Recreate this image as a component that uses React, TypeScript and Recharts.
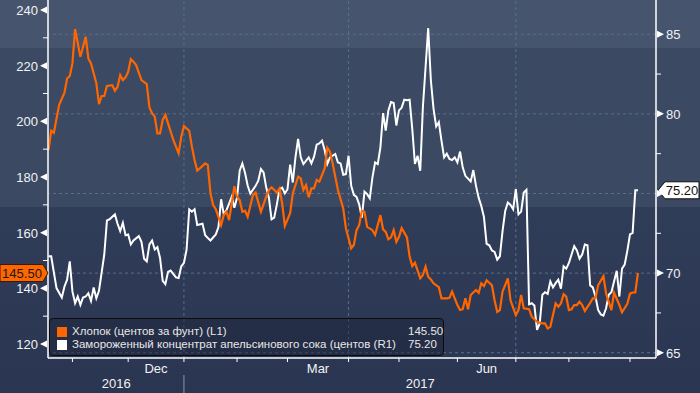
import React from "react";
import {
  ComposedChart,
  Line,
  XAxis,
  YAxis,
  ReferenceLine,
  ReferenceDot,
} from "recharts";

// trading-day index counted from 19 Oct 2016
const cottonDays = [
  0, 1, 2, 4, 6, 7, 8, 9, 10, 12, 14, 15, 16, 18, 19, 20, 21, 22, 24, 25, 26, 27, 28, 29, 30, 31, 32, 33, 35, 37,
  38, 39, 40, 41, 42, 43, 44, 46, 47, 48, 49, 50, 51, 53, 54, 55, 56, 57, 59, 60, 61, 62, 63, 64, 65, 66, 67, 68, 69, 70,
  71, 72, 73, 74, 75, 77, 78, 80, 82, 83, 84, 86, 87, 88, 89, 91, 92, 94, 95, 96, 97, 98, 99, 100, 101, 102, 104, 105, 106, 107,
  109, 111, 112, 114, 115, 116, 117, 118, 119, 120, 122, 123, 125, 126, 127, 128, 129, 130, 131, 132, 133, 135, 136, 137, 138, 140, 141, 142, 143, 144,
  145, 147, 148, 150, 151, 152, 154, 155, 156, 157, 158, 159, 161, 162, 163, 164, 165, 167, 168, 169, 170, 171, 173, 174, 176, 177, 178, 179, 181, 182,
  184, 186, 187, 188, 189, 191, 192, 193, 194, 195, 196, 197, 198, 199, 200, 201, 202, 204, 205, 206, 207, 209, 210, 212, 213, 215, 216, 218, 219, 220,
  221, 222,
];
const cottonValues = [
  189.7, 196.6, 195.9, 205.9, 210.3, 215.4, 216.3, 220.8, 233.1, 223.2, 230.4, 222.6, 220.8, 213.7, 206.2, 209.1, 209.1, 212.7, 213.0, 211.0, 212.4, 216.6, 214.8, 215.8, 217.8, 222.3, 221.4, 220.2, 214.8, 213.4,
  205.0, 202.9, 201.7, 195.7, 195.7, 200.5, 202.3, 196.3, 193.3, 190.9, 188.5, 194.5, 198.3, 196.6, 190.9, 186.1, 182.3, 183.1, 184.9, 184.3, 174.1, 169.9, 168.4, 165.7, 162.7, 166.3, 167.5, 164.5, 170.5, 176.7,
  172.9, 171.7, 167.5, 167.9, 165.7, 173.5, 174.4, 167.5, 172.9, 175.3, 176.3, 174.4, 175.9, 170.5, 162.4, 167.0, 174.1, 180.1, 179.5, 175.3, 177.1, 172.7, 175.9, 175.9, 178.9, 178.3, 183.1, 190.5, 189.1, 184.9,
  175.3, 168.7, 161.6, 154.4, 155.6, 160.9, 162.7, 167.9, 167.5, 162.1, 160.9, 159.2, 166.3, 161.2, 160.3, 157.6, 158.3, 160.9, 156.7, 158.5, 161.7, 158.3, 151.4, 148.0, 149.2, 143.6, 144.8, 147.8, 144.2, 143.2,
  141.8, 140.4, 136.4, 136.4, 136.6, 138.8, 134.0, 132.2, 132.5, 136.4, 132.5, 137.6, 139.4, 138.4, 141.8, 140.8, 142.9, 141.1, 135.7, 131.5, 132.2, 138.8, 143.6, 135.7, 130.4, 132.2, 137.6, 132.8, 132.5, 129.8,
  128.0, 127.4, 127.4, 125.6, 126.2, 134.6, 133.4, 134.6, 137.9, 137.0, 132.2, 132.5, 134.0, 134.0, 135.2, 134.0, 131.9, 134.8, 136.4, 136.4, 141.1, 144.4, 138.1, 132.2, 138.4, 134.0, 131.4, 134.4, 138.1, 138.5,
  138.5, 145.5,
];

const juiceDays = [
  0, 1, 3, 5, 6, 7, 8, 9, 10, 11, 12, 13, 14, 15, 16, 17, 18, 19, 21, 22, 23, 25, 26, 27, 28, 29, 30, 31, 32, 34,
  35, 36, 37, 38, 39, 40, 41, 42, 43, 44, 45, 46, 48, 49, 50, 51, 52, 53, 54, 55, 56, 58, 59, 60, 61, 63, 64, 65, 66, 67,
  68, 69, 70, 71, 72, 73, 74, 75, 76, 78, 79, 80, 81, 82, 83, 84, 85, 86, 87, 88, 89, 90, 91, 92, 93, 94, 95, 96, 98, 99,
  100, 101, 102, 103, 104, 105, 106, 108, 109, 110, 111, 112, 113, 114, 115, 116, 117, 118, 119, 120, 121, 122, 123, 124, 125, 126, 127, 128, 129, 130,
  131, 132, 133, 134, 135, 136, 137, 138, 139, 140, 141, 143, 144, 145, 146, 147, 148, 149, 150, 151, 152, 153, 154, 155, 156, 157, 159, 160, 161, 162,
  163, 164, 165, 166, 167, 168, 169, 170, 171, 172, 173, 174, 175, 176, 177, 178, 179, 180, 181, 182, 183, 184, 185, 186, 187, 188, 189, 190, 191, 192,
  193, 194, 195, 196, 197, 198, 199, 200, 201, 202, 203, 204, 205, 206, 207, 208, 209, 210, 211, 212, 213, 214, 215, 216, 217, 218, 219, 220, 221, 222,
];
const juiceValues = [
  71.06, 71.06, 69.06, 68.47, 69.16, 69.59, 70.74, 68.85, 68.11, 68.53, 68.01, 68.47, 68.53, 68.74, 68.26, 69.1, 68.42, 68.89, 71.17, 73.31, 73.38, 73.69, 73.1, 72.64, 73.16, 72.38, 72.43, 71.8, 72.05, 72.32,
  71.96, 70.9, 70.74, 71.8, 72.05, 71.48, 71.63, 70.95, 69.52, 69.31, 70.07, 70.16, 69.73, 69.69, 70.43, 70.64, 71.48, 74.01, 73.86, 74.01, 73.02, 73.1, 72.38, 72.21, 72.05, 72.43, 72.89, 74.64, 73.69, 73.95,
  74.36, 74.79, 74.11, 74.74, 76.43, 76.89, 76.3, 75.5, 75.0, 75.48, 75.8, 76.54, 76.32, 75.37, 74.74, 73.38, 73.48, 74.32, 75.27, 75.37, 75.0, 75.27, 76.81, 75.69, 77.27, 78.43, 77.27, 76.85, 77.27, 76.89,
  77.31, 78.07, 78.15, 78.32, 77.74, 76.85, 77.27, 77.48, 76.95, 76.89, 76.18, 76.22, 77.37, 75.48, 74.91, 74.79, 74.32, 73.48, 75.12, 74.96, 74.7, 76.01, 76.95, 76.85, 77.9, 80.05, 78.95, 80.22, 80.74, 80.68,
  79.27, 80.22, 80.39, 80.89, 80.85, 80.89, 79.06, 76.85, 77.37, 76.43, 80.43, 85.38, 82.11, 80.33, 79.21, 79.48, 78.32, 77.27, 77.5, 77.17, 77.1, 77.27, 76.95, 77.63, 76.64, 76.11, 75.75, 76.47, 75.48, 74.74,
  74.22, 73.52, 71.84, 71.75, 71.42, 71.33, 70.85, 71.06, 72.64, 73.9, 74.43, 74.28, 74.01, 75.27, 73.69, 73.86, 75.06, 75.23, 68.04, 68.11, 67.96, 66.43, 66.84, 68.64, 68.8, 68.7, 69.48, 69.1, 69.37, 69.59,
  69.02, 70.43, 70.28, 70.64, 71.17, 71.69, 71.42, 70.91, 71.17, 71.8, 71.75, 69.23, 69.1, 68.53, 67.69, 67.41, 67.33, 67.79, 68.64, 68.8, 69.48, 70.15, 68.53, 70.28, 70.53, 71.4, 72.43, 72.53, 75.2, 75.2,
];

// first trading day of each month, Nov 2016 .. Sep 2017
const monthStarts = [9, 30, 51, 71, 90, 113, 132, 154, 176, 196, 219];
const quarterStarts = [51, 113, 176];
const yearBreak = 51;
const monthLabels = ["Dec", "Mar", "Jun"];
const monthLabelDays = [40.5, 101.5, 165];
const yearLabels = ["2016", "2017"];
const yearLabelDays = [25.5, 140];

const leftTicks = [120, 130, 140, 150, 160, 170, 180, 190, 200, 210, 220, 230, 240];
const rightTicks = [65, 67.5, 70, 72.5, 75, 77.5, 80, 82.5, 85];
const rightGrid = [65, 70, 75, 80, 85];

const cottonName = "Хлопок (центов за фунт) (L1)";
const juiceName = "Замороженный концентрат апельсинового сока (центов (R1)";

const ORANGE = "#ff6600";
const FONT = "'Liberation Sans', Arial, sans-serif";
const GRID = "#56708f";

const cottonData = cottonDays.map((d, i) => ({ day: d, v: cottonValues[i] }));
const juiceData = juiceDays.map((d, i) => ({ day: d, v: juiceValues[i] }));
const lastCotton = cottonData[cottonData.length - 1];
const lastJuice = juiceData[juiceData.length - 1];

const xTicks = [...monthStarts, ...monthLabelDays, ...yearLabelDays].sort((a, b) => a - b);

function LeftTick(props: any) {
  const { y, payload } = props;
  const v = payload.value;
  if (v % 20 !== 0) {
    return <line x1={43} x2={48} y1={y} y2={y} stroke="#fff" strokeWidth={1} />;
  }
  return (
    <g>
      <text x={38} y={y + 5} textAnchor="end" fill="#f2f2f2" fontSize={13} fontFamily={FONT}>
        {v}
      </text>
      <polygon points={`40,${y} 47,${y - 3.5} 47,${y + 3.5}`} fill="#fff" />
    </g>
  );
}

function RightTick(props: any) {
  const { y, payload } = props;
  const v = payload.value;
  if (v % 5 !== 0) {
    return <line x1={656} x2={661} y1={y} y2={y} stroke="#fff" strokeWidth={1} />;
  }
  // the last-value tag sits on top of a label this close to it
  const covered = Math.abs(v - lastJuice.v) < 1.2;
  return (
    <g>
      <polygon points={`664,${y} 657,${y - 3.5} 657,${y + 3.5}`} fill="#fff" />
      {!covered && (
        <text x={666} y={y + 5} textAnchor="start" fill="#f2f2f2" fontSize={13} fontFamily={FONT}>
          {v}
        </text>
      )}
    </g>
  );
}

function DateTick(props: any) {
  const { x, payload } = props;
  const v = payload.value;
  const mi = monthLabelDays.indexOf(v);
  if (mi >= 0) {
    return (
      <text x={x} y={373} textAnchor="middle" fill="#f2f2f2" fontSize={13} fontFamily={FONT}>
        {monthLabels[mi]}
      </text>
    );
  }
  const yi = yearLabelDays.indexOf(v);
  if (yi >= 0) {
    return (
      <text x={x} y={388} textAnchor="middle" fill="#f2f2f2" fontSize={13} fontFamily={FONT}>
        {yearLabels[yi]}
      </text>
    );
  }
  return (
    <g>
      <line x1={x} x2={x} y1={358} y2={362} stroke="#fff" strokeWidth={1} />
      {v === yearBreak && <line x1={x} x2={x} y1={375} y2={393} stroke="#8c95a6" strokeWidth={1} />}
    </g>
  );
}

function LeftTag(props: any) {
  const cy = props.cy;
  return (
    <g>
      <polygon
        points={`0,${cy - 8.5} 43,${cy - 8.5} 48,${cy} 43,${cy + 8.5} 0,${cy + 8.5}`}
        fill={ORANGE}
        stroke="#3a1a00"
        strokeWidth={1}
      />
      <text x={22} y={cy + 5} textAnchor="middle" fill="#1a1a1a" fontSize={13} fontFamily={FONT}>
        {lastCotton.v.toFixed(2)}
      </text>
    </g>
  );
}

function RightTag(props: any) {
  const cy = props.cy;
  return (
    <g>
      <polygon
        points={`658,${cy} 665,${cy - 8.5} 699,${cy - 8.5} 699,${cy + 8.5} 665,${cy + 8.5}`}
        fill="#fff"
        stroke="#111"
        strokeWidth={1}
      />
      <text x={682} y={cy + 5} textAnchor="middle" fill="#111" fontSize={13} fontFamily={FONT}>
        {lastJuice.v.toFixed(2)}
      </text>
    </g>
  );
}

function LegendBox() {
  const row = (top: number, color: string, name: string, value: string) => (
    <div style={{ position: "absolute", left: 0, top, width: "100%", height: 13 }}>
      <div style={{ position: "absolute", left: 7, top: 1, width: 10, height: 10, background: color }} />
      <div style={{ position: "absolute", left: 22, top: -1, whiteSpace: "nowrap" }}>{name}</div>
      <div style={{ position: "absolute", left: 358, top: -1 }}>{value}</div>
    </div>
  );
  return (
    <div
      style={{
        position: "absolute",
        left: 49,
        top: 318,
        width: 395,
        height: 38,
        boxSizing: "border-box",
        border: "1.5px solid #0c0c0c",
        borderRadius: 4,
        background: "rgba(28,36,56,0.5)",
        color: "#e8e8e8",
        fontFamily: FONT,
        fontSize: 11.5,
        lineHeight: "13px",
      }}
    >
      {row(7, ORANGE, cottonName, lastCotton.v.toFixed(2))}
      {row(20, "#ffffff", juiceName, lastJuice.v.toFixed(2))}
    </div>
  );
}

export default function App() {
  return (
    <div
      style={{
        position: "fixed",
        left: 0,
        top: 0,
        width: 700,
        height: 393,
        background:
          "linear-gradient(to bottom, #47546d 0px, #47546d 48px, #3b4963 48px, #3b4963 207px, #303d59 207px, #2a3551 393px)",
      }}
    >
      <ComposedChart width={700} height={393} margin={{ top: 0, right: 0, bottom: 0, left: 0 }}>
        <XAxis
          dataKey="day"
          type="number"
          domain={[-0.2, 228.8]}
          ticks={xTicks}
          interval={0}
          height={35}
          tickLine={false}
          axisLine={{ stroke: "#ffffff", strokeWidth: 1.5 }}
          tick={<DateTick />}
          allowDataOverflow
        />
        <YAxis
          yAxisId="left"
          orientation="left"
          type="number"
          domain={[114.97, 243.59]}
          ticks={leftTicks}
          interval={0}
          width={48}
          tickLine={false}
          axisLine={{ stroke: "#ffffff", strokeWidth: 1.5 }}
          tick={<LeftTick />}
          allowDataOverflow
        />
        <YAxis
          yAxisId="right"
          orientation="right"
          type="number"
          domain={[64.67, 87.15]}
          ticks={rightTicks}
          interval={0}
          width={44}
          tickLine={false}
          axisLine={{ stroke: "#ffffff", strokeWidth: 1.5 }}
          tick={<RightTick />}
          allowDataOverflow
        />
        {rightGrid.map((v) => (
          <ReferenceLine key={"h" + v} yAxisId="right" y={v} stroke={GRID} strokeDasharray="3 3" />
        ))}
        {quarterStarts.map((d) => (
          <ReferenceLine key={"v" + d} yAxisId="right" x={d} stroke={GRID} strokeDasharray="3 3" />
        ))}
        <Line
          yAxisId="right"
          data={juiceData}
          dataKey="v"
          type="linear"
          stroke="#ffffff"
          strokeWidth={2}
          dot={false}
          isAnimationActive={false}
        />
        <Line
          yAxisId="left"
          data={cottonData}
          dataKey="v"
          type="linear"
          stroke={ORANGE}
          strokeWidth={2.2}
          dot={false}
          isAnimationActive={false}
        />
        <ReferenceDot yAxisId="left" x={lastCotton.day} y={lastCotton.v} shape={<LeftTag />} />
        <ReferenceDot yAxisId="right" x={lastJuice.day} y={lastJuice.v} shape={<RightTag />} />
      </ComposedChart>
      <LegendBox />
    </div>
  );
}
